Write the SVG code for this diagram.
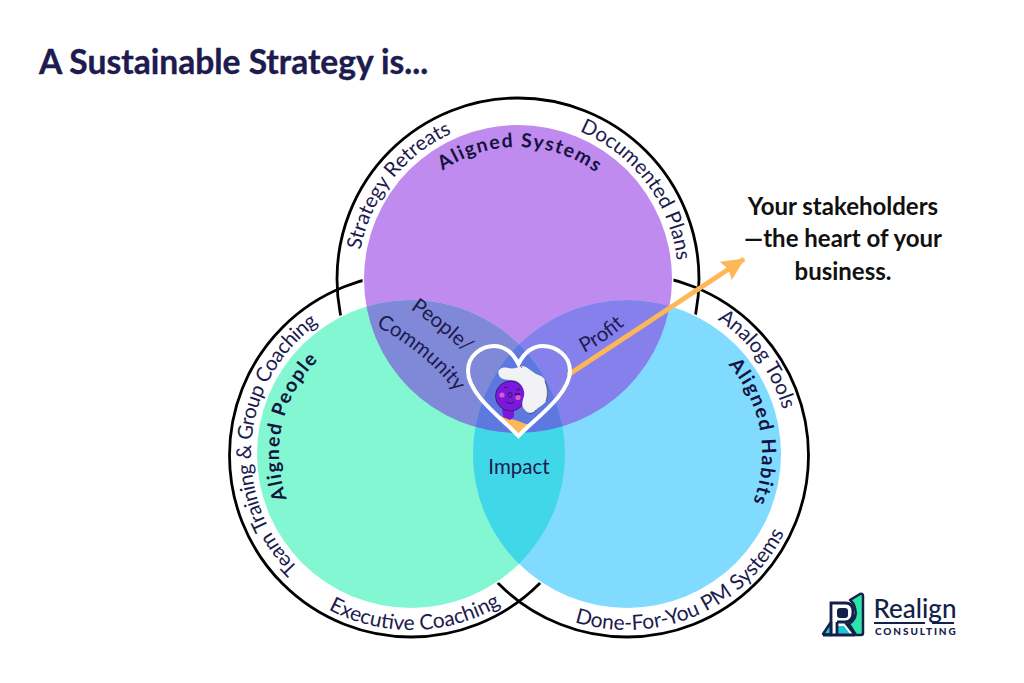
<svg xmlns="http://www.w3.org/2000/svg" width="1024" height="683" viewBox="0 0 1024 683">
<style>
text{font-family:Lato,"Noto Sans",sans-serif;fill:#1D1B4F}
.o{font-size:20.5px}
.a{font-size:19.5px;font-weight:700;letter-spacing:1.5px;fill:#14123f}
.m{text-anchor:middle}
.ring{fill:none;stroke:#000;stroke-width:2.8}
.c{font-size:24px;font-weight:700;fill:#111;text-anchor:middle}
</style>
<defs>
<circle id="P" cx="518" cy="279" r="154"/>
<circle id="G" cx="411" cy="454" r="154"/>
<circle id="B" cx="627" cy="454" r="154"/>
<clipPath id="cP"><use href="#P"/></clipPath>
<clipPath id="cG"><use href="#G"/></clipPath>
<clipPath id="cB"><use href="#B"/></clipPath>
<clipPath id="cH"><path d="M518.500 436C505 421 468 395 468 371C468 355 482 346 494 346C506 346 514 355 518.500 364C523 355 531 346 543 346C555 346 570 355 570 371C570 395 532 421 518.500 436Z"/></clipPath>
<path id="p160" d="M358 279A160 160 0 0 1 678 279"/>
<path id="p132" d="M386 279A132 132 0 0 1 650 279"/>
<path id="g160" d="M251 454A160 160 0 0 1 571 454"/>
<path id="g132" d="M279 454A132 132 0 0 1 543 454"/>
<path id="g176" d="M235 454A176 176 0 0 0 587 454"/>
<path id="b162" d="M465 454A162 162 0 0 1 789 454"/>
<path id="b135" d="M492 454A135 135 0 0 1 762 454"/>
<path id="b176" d="M451 454A176 176 0 0 0 803 454"/>
<path id="cm1" d="M410 309Q441 330 465 353"/>
<path id="cm2" d="M376 326Q425 352 456 392"/>
<path id="pf" d="M584 353Q608 341 629 321"/>
<marker id="ah" markerUnits="userSpaceOnUse" markerWidth="24" markerHeight="24" refX="20" refY="10" orient="auto" viewBox="0 0 22 20"><path d="M0 0L21 10L0 20L3 10Z" fill="#FDB756"/></marker>
</defs>
<rect width="1024" height="683" fill="#fff"/>
<text id="title" x="39" y="74" font-size="33.600" font-weight="700" style="fill:#1D1B4F;stroke:#1D1B4F;stroke-width:.4px">A Sustainable Strategy is...</text>

<g id="rings">
<circle class="ring" cx="518" cy="279" r="181"/>
<circle class="ring" cx="411" cy="455.500" r="181.500"/>
<circle class="ring" cx="627" cy="455.500" r="181.500"/>
<use href="#G" fill="#fff" stroke="#fff" stroke-width="3"/>
<use href="#B" fill="#fff" stroke="#fff" stroke-width="3"/>
<use href="#P" fill="#fff" stroke="#fff" stroke-width="3"/>
</g>

<g id="venn">
<use href="#P" fill="#C08BEF"/>
<use href="#G" fill="#82F7D2"/>
<use href="#B" fill="#80DBFF"/>
<g clip-path="url(#cP)"><use href="#G" fill="#8089D7"/><use href="#B" fill="#8680EC"/></g>
<g clip-path="url(#cG)"><use href="#B" fill="#40D8E8"/></g>
<g clip-path="url(#cP)"><g clip-path="url(#cG)"><use href="#B" fill="#5F78E0"/></g></g>
</g>

<g id="connectors">
<line x1="568" y1="375" x2="744" y2="259" stroke="#FDB756" stroke-width="5" marker-end="url(#ah)"/>
</g>

<g id="node-systems">
<text class="o m" transform="rotate(-52 518 279)"><textPath href="#p160" startOffset="50%">Strategy Retreats</textPath></text>
<text class="o m" transform="rotate(53 518 279)"><textPath href="#p160" startOffset="50%">Documented Plans</textPath></text>
<text class="a m" transform="rotate(1 518 279)"><textPath href="#p132" startOffset="50%">Aligned Systems</textPath></text>
</g>
<g id="node-people">
<text class="o m" style="font-size:20.5px;letter-spacing:-.5px" transform="rotate(-85.500 411 454)"><textPath href="#g160" startOffset="50%">Team Training &amp; Group Coaching</textPath></text>
<text class="o m" style="font-size:21px" transform="rotate(-1.4 411 454)"><textPath href="#g176" startOffset="50%">Executive Coaching</textPath></text>
<text class="a m" transform="rotate(-77 411 454)"><textPath href="#g132" startOffset="50%">Aligned People</textPath></text>
</g>
<g id="node-habits">
<text class="o m" transform="rotate(54 627 454)"><textPath href="#b162" startOffset="50%">Analog Tools</textPath></text>
<text class="a m" transform="rotate(80 627 454)"><textPath href="#b135" startOffset="50%">Aligned Habits</textPath></text>
<text class="o m" style="font-size:21px" transform="rotate(-23 627 454)"><textPath href="#b176" startOffset="50%">Done-For-You PM Systems</textPath></text>
</g>
<g id="node-overlaps">
<text class="o"><textPath href="#cm1">People/</textPath></text>
<text class="o"><textPath href="#cm2">Community</textPath></text>
<text class="o"><textPath href="#pf">Profit</textPath></text>
<text x="519" y="474" font-size="20.500" text-anchor="middle">Impact</text>
</g>

<g id="node-stakeholders">
<g clip-path="url(#cH)">
<path d="M490 411L505 418L515 420L529 425L518 440Z" fill="#FDB756"/>
</g>
<path d="M502 408H514V417L510 420L503 417Z" fill="#7A18DC"/>
<circle cx="510.500" cy="396" r="15" fill="#7A18DC" stroke="#2A2350" stroke-width=".8"/>
<path d="M501 378C495 372 500 366 508 368C513 369 517 368 521 366C527 366 531 371 536 374C541 376 545 377 545 382C548 388 548 396 546 401C543 406 538 407 536 410C533 414 528 414 525 410C521 406 522 402 524 396C525 390 522 385 518 382C513 379 506 381 501 378Z" fill="#F2F2F5"/>
<path d="M545 381C548 388 548 396 546 401M536 410C534 413 531 414 529 413M519 364L522 368" fill="none" stroke="#3a3560" stroke-width=".7"/>
<circle cx="502" cy="395" r="2.600" fill="#D85BC8"/><circle cx="518" cy="397.500" r="2.600" fill="#D85BC8"/>
<path d="M506 402Q510 405 514 402M504 387L508 388M516 390L520 389" fill="none" stroke="#1D1B4F" stroke-width=".8"/>
<ellipse cx="510" cy="395" rx="2" ry="2.600" fill="none" stroke="#1D1B4F" stroke-width=".8"/>
<path d="M515 394.500L520 394" stroke="#1D1B4F" stroke-width="1.400"/>
<path d="M518.500 436C505 421 468 395 468 371C468 355 482 346 494 346C506 346 514 355 518.500 364C523 355 531 346 543 346C555 346 570 355 570 371C570 395 532 421 518.500 436Z" fill="none" stroke="#fff" stroke-width="4"/>
</g>

<g id="callout">
<text class="c" x="843" y="215">Your stakeholders</text>
<text class="c" x="843" y="247">—the heart of your</text>
<text class="c" x="843" y="280">business.</text>
</g>

<g id="logo">
<path d="M850 600L860 594Q863 593 863 596V633Q863 635 861 635H856L849 624Q858 618 855 608Q854 603 850 600Z" fill="#2BE6A8" stroke="#13204A" stroke-width="2.500" stroke-linejoin="round"/>
<path d="M823 634L831 622V635Z" fill="#21C4D6" stroke="#13204A" stroke-width="2.500" stroke-linejoin="round"/>
<path d="M838 626H844L850 634H838Z" fill="#21C4D6"/>
<path d="M831 635V603H846Q853 603 853 612Q853 622 845 622H837M845 622L855 635M837 622V635M823 635H855" fill="none" stroke="#13204A" stroke-width="2.800"/>
<rect x="837" y="608" width="11" height="10" rx="3" fill="#13204A"/>
<text x="873.500" y="618" font-size="26" font-weight="500" style="fill:#13204A">Realign</text>
<rect x="874" y="622" width="51" height="2" fill="#13204A"/><rect x="932" y="622" width="22" height="2" fill="#13204A"/>
<text x="875" y="635" font-size="10" font-weight="900" letter-spacing="1.900" style="fill:#13204A">CONSULTING</text>
</g>
</svg>
